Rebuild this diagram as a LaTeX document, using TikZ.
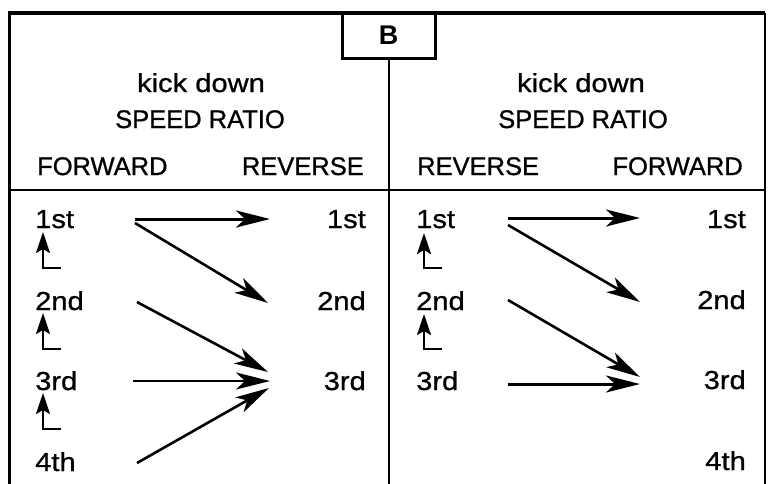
\documentclass[tikz,border=0pt]{standalone}
\usepackage{fontspec}
\setmainfont{Liberation Sans}
\newfontfamily\widefont[FakeStretch=1.12,FakeBold=0.9]{Liberation Sans}
\newfontfamily\capfont[FakeBold=0.9]{Liberation Sans}
\usetikzlibrary{arrows.meta}
\tikzset{
  lab/.style={font=\widefont\fontsize{26}{30}\selectfont,inner sep=0pt},
  caplab/.style={font=\capfont\fontsize{25.5}{30}\selectfont,inner sep=0pt},
  gl/.style={lab,anchor=base west},
  gr/.style={lab,anchor=base east},
  hd/.style={anchor=base},
  arr/.style={-{Stealth[length=34pt,width=17pt,inset=9pt]},line width=2.6pt},
  tarr/.style={arr,line width=1.8pt},
  upshift/.style={-{Stealth[length=21pt,width=14pt,inset=4pt]},line width=2.3pt},
}
\begin{document}
\begin{tikzpicture}[x=1pt,y=-1pt]
\useasboundingbox (0,0) rectangle (769,483);
% frame
\draw[line width=3.5pt] (9.5,500) -- (9.5,13) -- (765,13);
\draw[line width=2.5pt] (765,13) -- (765,500);
\node[draw,line width=3pt,minimum width=93pt,minimum height=45pt,inner sep=0pt,
  font=\fontsize{27}{30}\selectfont\bfseries] (bbox) at (388.5,35.5) {B};
\draw[line width=2pt] (bbox.south) -- (388.5,500);
\draw[line width=2pt] (9.5,190) -- (765,190);
% headers
\node[lab,hd] (kdL) at (201,92) {kick down};
\node[caplab,hd] (srL) at (200,128) {SPEED RATIO};
\node[caplab,anchor=base west] (fwL) at (37,175) {FORWARD};
\node[caplab,anchor=base east] (rvL) at (364,175) {REVERSE};
\node[lab,hd] (kdR) at (581,92) {kick down};
\node[caplab,hd] (srR) at (583,128) {SPEED RATIO};
\node[caplab,anchor=base west] (rvR) at (417,175) {REVERSE};
\node[caplab,anchor=base east] (fwR) at (743,175) {FORWARD};
% gears, left panel
\node[gl] (aL1) at (35,228) {1st};
\node[gl] (aL2) at (35,310) {2nd};
\node[gl] (aL3) at (35,390) {3rd};
\node[gl] (aL4) at (35,471) {4th};
\node[gr] (bL1) at (366,228) {1st};
\node[gr] (bL2) at (366,310) {2nd};
\node[gr] (bL3) at (366,390) {3rd};
% gears, right panel
\node[gl] (aR1) at (416,228) {1st};
\node[gl] (aR2) at (416,310) {2nd};
\node[gl] (aR3) at (416,390) {3rd};
\node[gr] (bR1) at (746,228) {1st};
\node[gr] (bR2) at (746,309) {2nd};
\node[gr] (bR3) at (746,389) {3rd};
\node[gr] (bR4) at (746,470) {4th};
% arrow ends
\foreach \n/\x/\y in {t11/135/219,h11/270/219,t12/135/223,h12/268/303,
  t23/137/302,h23/268/372,t33/133/381,h33/270/381,t43/137/463,h43/269/388}
  \coordinate (L\n) at (\x,\y);
\foreach \n/\x/\y in {t11/508/218,h11/640/218,t12/508/225,h12/640/302,
  t23/508/300,h23/640/377,t33/508/384,h33/640/384}
  \coordinate (R\n) at (\x,\y);
\draw[arr,line width=3pt] (Lt11) -- (Lh11);
\draw[arr] (Lt12) -- (Lh12);
\draw[arr] (Lt23) -- (Lh23);
\draw[tarr] (Lt33) -- (Lh33);
\draw[arr] (Lt43) -- (Lh43);
\draw[arr,line width=3pt] (Rt11) -- (Rh11);
\draw[arr] (Rt12) -- (Rh12);
\draw[arr] (Rt23) -- (Rh23);
\draw[arr,line width=3pt] (Rt33) -- (Rh33);
% shift marks
\foreach \y in {268,349,429}
  \draw[upshift] (61,\y) -- (43,\y) -- (43,\y-36);
\foreach \y in {268,349}
  \draw[upshift] (442,\y) -- (424,\y) -- (424,\y-35);
\end{tikzpicture}
\end{document}
